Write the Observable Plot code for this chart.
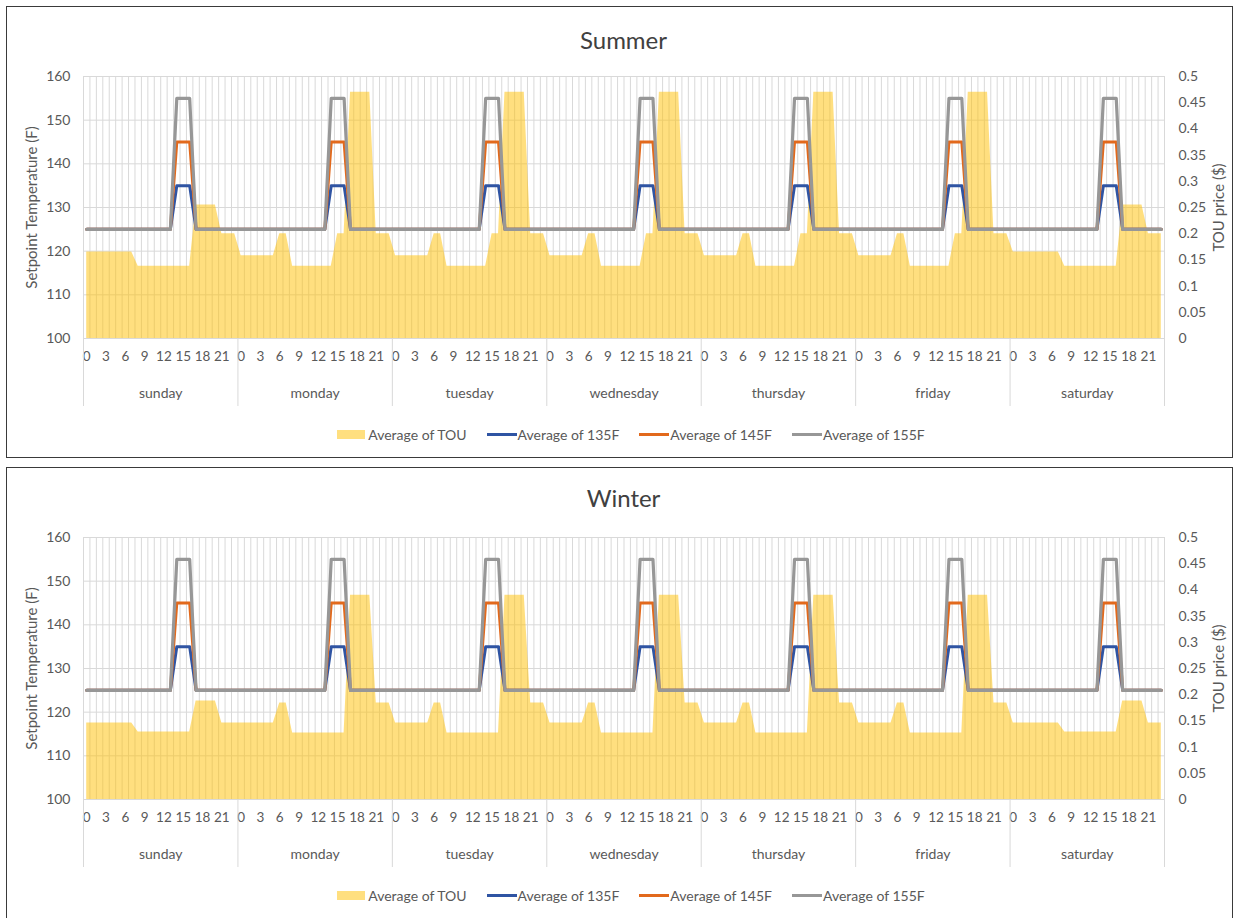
<!DOCTYPE html>
<html>
<head>
<meta charset="utf-8">
<script src="https://cdn.jsdelivr.net/npm/d3@7"></script>
<script src="https://cdn.jsdelivr.net/npm/@observablehq/plot@0.6"></script>
<style>
  html, body { margin: 0; padding: 0; background: #fff; }
  body { width: 1239px; height: 918px; position: relative; overflow: hidden; font-family: Lato, "Open Sans", sans-serif; }
  .panel { position: absolute; left: 6px; width: 1225px; border: 1px solid #3a3a3a; background: #fff; }
  .title { height: 56px; box-sizing: border-box; padding-left: 8px; text-align: center;
           font-size: 24px; line-height: 28px; color: #404040; }
  .chart svg { display: block; overflow: visible; }
  .legend { height: 46px; box-sizing: border-box; padding-left: 23px; display: flex; justify-content: center;
            align-items: center; font-size: 14px; color: #595959; }
  .item { display: flex; align-items: center; margin: 0 10px; }
  .sw-area { width: 28px; height: 9px; background: rgba(255,192,0,0.5); margin-right: 3px; }
  .sw-line { width: 30px; height: 3px; margin-right: 1px; }
</style>
</head>
<body>
<div class="panel" id="summer" style="top:6px;"></div>
<div class="panel" id="winter" style="top:467px;"></div>
<script>
// ---- categories / tick labels ----
const days = ["sunday", "monday", "tuesday", "wednesday", "thursday", "friday", "saturday"];
const dayType = ["weekend", "weekday", "weekday", "weekday", "weekday", "weekday", "weekend"];
const hourTickLabels = [0, 3, 6, 9, 12, 15, 18, 21];
const tempTicks = [100, 110, 120, 130, 140, 150, 160];
const touTicks = [0, 0.05, 0.1, 0.15, 0.2, 0.25, 0.3, 0.35, 0.4, 0.45, 0.5];
const touTickLabels = ["0", "0.05", "0.1", "0.15", "0.2", "0.25", "0.3", "0.35", "0.4", "0.45", "0.5"];

// ---- TOU price by hour (0..23) ----
const summerTouWeekend = [0.165,0.165,0.165,0.165,0.165,0.165,0.165,0.165,
                          0.138,0.138,0.138,0.138,0.138,0.138,0.138,0.138,0.138,
                          0.255,0.255,0.255,0.255, 0.2,0.2,0.2];
const summerTouWeekday = [0.158,0.158,0.158,0.158,0.158,0.158, 0.2,0.2,
                          0.138,0.138,0.138,0.138,0.138,0.138,0.138, 0.2,0.2,
                          0.47,0.47,0.47,0.47, 0.2,0.2,0.2];
const winterTouWeekend = [0.146,0.146,0.146,0.146,0.146,0.146,0.146,0.146,
                          0.129,0.129,0.129,0.129,0.129,0.129,0.129,0.129,0.129,
                          0.188,0.188,0.188,0.188, 0.146,0.146,0.146];
const winterTouWeekday = [0.146,0.146,0.146,0.146,0.146,0.146, 0.184,0.184,
                          0.127,0.127,0.127,0.127,0.127,0.127,0.127,0.127,0.127,
                          0.39,0.39,0.39,0.39, 0.184,0.184,0.184];

// ---- setpoint temperatures by hour (0..23), same each day ----
const setpoint135 = [125,125,125,125,125,125,125,125,125,125,125,125,125,125, 135,135,135, 125,125,125,125,125,125,125];
const setpoint145 = [125,125,125,125,125,125,125,125,125,125,125,125,125,125, 145,145,145, 125,125,125,125,125,125,125];
const setpoint155 = [125,125,125,125,125,125,125,125,125,125,125,125,125,125, 155,155,155, 125,125,125,125,125,125,125];

const seriesColors = { tou: "#FFC000", s135: "#2F54A3", s145: "#E2691C", s155: "#979797" };
const legendItems = [
  { key: "tou", label: "Average of TOU" },
  { key: "s135", label: "Average of 135F" },
  { key: "s145", label: "Average of 145F" },
  { key: "s155", label: "Average of 155F" }
];

const panels = [
  { id: "summer", title: "Summer", titlePad: 19, tou: { weekend: summerTouWeekend, weekday: summerTouWeekday } },
  { id: "winter", title: "Winter", titlePad: 16, tou: { weekend: winterTouWeekend, weekday: winterTouWeekday } }
];

// TOU (right axis 0..0.5) shares the left scale (100..160)
const touToLeft = v => 100 + v * 120;

function draw(panel) {
  const rows = [];
  days.forEach((day, d) => {
    const tou = panel.tou[dayType[d]];
    for (let h = 0; h < 24; h++) {
      rows.push({ x: d * 24 + h, tou: tou[h], s135: setpoint135[h], s145: setpoint145[h], s155: setpoint155[h] });
    }
  });
  const nCat = days.length * 24;
  const boundaries = d3.range(nCat + 1).map(i => i - 0.5);
  const daySeps = d3.range(days.length + 1).map(i => i * 24 - 0.5);
  const dayCenters = days.map((_, i) => i * 24 + 11.5);
  const dayLabelMap = new Map(dayCenters.map((c, i) => [c, days[i]]));
  const hourTicks = [];
  days.forEach((_, d) => hourTickLabels.forEach(h => hourTicks.push(d * 24 + h)));
  const touPos = touTicks.map(touToLeft);
  const touLabelMap = new Map(touPos.map((p, i) => [p, touTickLabels[i]]));

  const chart = Plot.plot({
    width: 1225,
    height: 348,
    marginLeft: 76,
    marginRight: 68,
    marginTop: 13,
    marginBottom: 73,
    x: { type: "linear", domain: [-0.5, nCat - 0.5] },
    y: { type: "linear", domain: [100, 160] },
    style: { fontFamily: "Lato, 'Open Sans', sans-serif", fontSize: "14px", color: "#595959", background: "#fff" },
    marks: [
      Plot.gridY(tempTicks, { stroke: "#d9d9d9", strokeOpacity: 1, strokeWidth: 1 }),
      Plot.gridX(boundaries, { stroke: "#d9d9d9", strokeOpacity: 1, strokeWidth: 1 }),
      Plot.areaY(rows, { x: "x", y1: 100, y2: d => touToLeft(d.tou), fill: seriesColors.tou, fillOpacity: 0.5 }),
      Plot.lineY(rows, { x: "x", y: "s135", stroke: seriesColors.s135, strokeWidth: 3 }),
      Plot.lineY(rows, { x: "x", y: "s145", stroke: seriesColors.s145, strokeWidth: 3 }),
      Plot.lineY(rows, { x: "x", y: "s155", stroke: seriesColors.s155, strokeWidth: 3.2 }),
      Plot.axisY(tempTicks, { anchor: "left", tickSize: 0, tickPadding: 13, label: null, fontSize: 14 }),
      Plot.axisY(touPos, { anchor: "right", tickSize: 0, tickPadding: 14, label: null, fontSize: 14,
                           tickFormat: d => touLabelMap.get(d) }),
      Plot.axisX(hourTicks, { anchor: "bottom", tickSize: 0, tickPadding: 13, label: null, fontSize: 13.5,
                              tickFormat: d => String(d % 24) }),
      Plot.axisX(daySeps, { anchor: "bottom", tickSize: 68, stroke: "#d9d9d9", strokeOpacity: 1, label: null,
                            tickFormat: () => "" }),
      Plot.axisX(dayCenters, { anchor: "bottom", tickSize: 0, tickPadding: 50, label: null, fontSize: 14,
                               tickFormat: d => dayLabelMap.get(d) }),
      Plot.text(["Setpoint Temperature (F)"], { frameAnchor: "left", textAnchor: "middle", rotate: -90, dx: -51,
                                                fontSize: 15, fill: "#595959" }),
      Plot.text(["TOU price ($)"], { frameAnchor: "right", textAnchor: "middle", rotate: -90, dx: 55,
                                     fontSize: 15, fill: "#595959" })
    ]
  });

  const box = document.getElementById(panel.id);
  const title = document.createElement("div");
  title.className = "title";
  title.style.paddingTop = panel.titlePad + "px";
  title.textContent = panel.title;
  box.appendChild(title);
  const holder = document.createElement("div");
  holder.className = "chart";
  holder.appendChild(chart);
  box.appendChild(holder);
  const legend = document.createElement("div");
  legend.className = "legend";
  legendItems.forEach(it => {
    const item = document.createElement("span");
    item.className = "item";
    const sw = document.createElement("span");
    sw.className = it.key === "tou" ? "sw-area" : "sw-line";
    if (it.key !== "tou") sw.style.background = seriesColors[it.key];
    item.appendChild(sw);
    const t = document.createElement("span");
    t.textContent = it.label;
    item.appendChild(t);
    legend.appendChild(item);
  });
  box.appendChild(legend);
}

panels.forEach(draw);
</script>
</body>
</html>
